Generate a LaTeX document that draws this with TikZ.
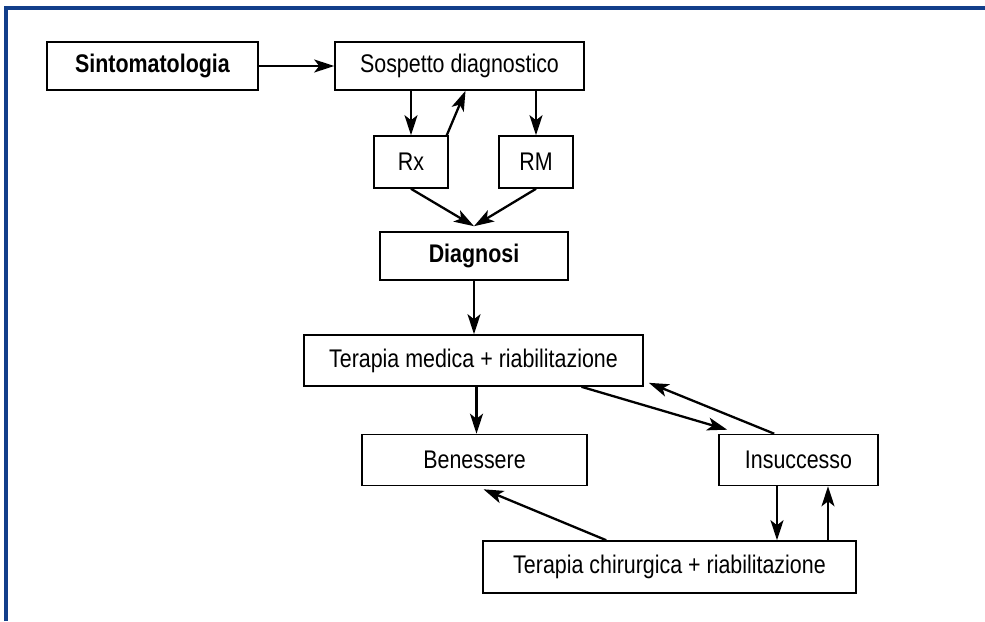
\documentclass[tikz,border=0pt]{standalone}
\usepackage{fontspec}
\setmainfont{Liberation Sans}[FakeStretch=0.84]
\usepackage{tikz}
\usetikzlibrary{arrows.meta}
\definecolor{frameblue}{RGB}{18,62,138}

\begin{document}
\begin{tikzpicture}[x=1pt,y=-1pt,>={Stealth[length=20pt,width=13pt,inset=5pt]},
		box/.style={draw,line width=1.6pt,inner sep=0pt,font=\fontsize{25.5}{30}\selectfont},
		arr/.style={->,line width=2.3pt}]
			\useasboundingbox (0,0) rectangle (985,621);
			\draw [frameblue, line width=3.5pt] (6,621) -- (6,8) -- (985,8);
			
			\node[box, minimum width=211pt, minimum height=48pt] (sinto) at (152.5,66) {\textbf{Sintomatologia}};
			\node[box, minimum width=249pt, minimum height=48pt] (sospetto) at (459.5,66) {Sospetto diagnostico};
			\node[box, minimum width=74pt, minimum height=52pt] (rx) at (411,162) {Rx};
			\node[box, minimum width=74pt, minimum height=52pt] (rm) at (536,162) {RM};
			\node[box, minimum width=188pt, minimum height=48pt] (diagnosi) at (474,256) {\textbf{Diagnosi}};
			\node[box, minimum width=339pt, minimum height=51pt] (tmed) at (473.5,360.5) {Terapia medica + riabilitazione};
			\node[box, minimum width=225pt, minimum height=51pt] (benessere) at (474.5,460) {Benessere};
			\node[box, minimum width=159pt, minimum height=51pt] (insuccesso) at (798.5,460) {Insuccesso};
			\node[box, minimum width=373pt, minimum height=52pt] (tchir) at (669.5,567) {Terapia chirurgica + riabilitazione};
			
			\draw[arr] (sinto.east) -- (sospetto.west);
			\draw[arr] (sospetto.south -| rx.north) -- (rx.north);
			\draw[arr] ([xshift=-2pt]rx.north east) -- ([xshift=6pt]sospetto.south);
			\draw[arr] (sospetto.south -| rm.north) -- (rm.north);
			\draw[arr] (rx.south) -- ([yshift=5pt]diagnosi.north);
			\draw[arr] (rm.south) -- ([yshift=5pt]diagnosi.north);
			\draw[arr] (diagnosi.south) -- (diagnosi.south |- tmed.north);
			\draw[arr] ([xshift=3pt]tmed.south) -- ([xshift=3pt]tmed.south |- benessere.north);
			\draw[arr] ([xshift=108pt]tmed.south) -- ([xshift=9pt,yshift=4pt]insuccesso.north west);
			\draw[arr] ([xshift=56pt]insuccesso.north west) -- ([xshift=5pt,yshift=4pt]tmed.south east);
			\draw[arr] ([xshift=124pt]tchir.north west) -- ([xshift=9pt,yshift=-3pt]benessere.south);
			\draw[arr] ([xshift=-21.5pt]insuccesso.south) -- ([xshift=-21.5pt]insuccesso.south |- tchir.north);
			\draw[arr] ([xshift=29.5pt]insuccesso.south |- tchir.north) -- ([xshift=29.5pt]insuccesso.south);
		\end{tikzpicture}
\end{document}
